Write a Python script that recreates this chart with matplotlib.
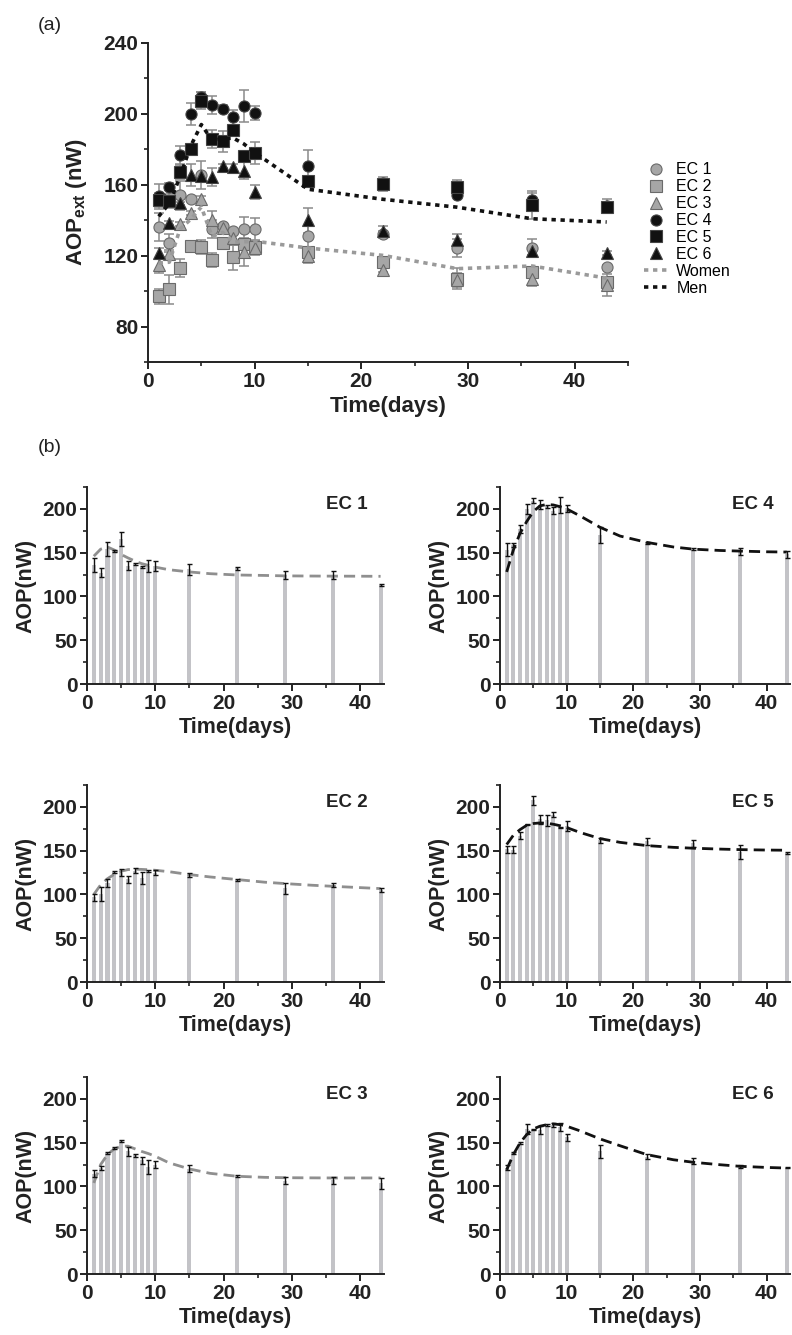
import numpy as np
import matplotlib.pyplot as plt
from matplotlib.ticker import MultipleLocator

plt.rcParams['font.family'] = ['Liberation Sans', 'DejaVu Sans']
plt.rcParams['mathtext.fontset'] = 'custom'
plt.rcParams['mathtext.bf'] = 'Liberation Sans:bold'
plt.rcParams['mathtext.rm'] = 'Liberation Sans:bold'
plt.rcParams['mathtext.default'] = 'bf'

days = [1, 2, 3, 4, 5, 6, 7, 8, 9, 10, 15, 22, 29, 36, 43]

# mean AOP per culture (nW)
ec1 = [136, 127, 154, 152, 165.5, 135, 137, 134, 135, 135, 131, 132, 124.5, 124.5, 113.5]
ec2 = [97, 101, 113, 125.5, 125, 117.5, 127, 119, 126.5, 125, 122, 116.5, 107, 111, 105]
ec3 = [114.5, 121, 138, 144, 152, 140, 135.5, 130, 122, 124.5, 120, 112, 106.5, 107, 103.5]
ec4 = [153.5, 159, 177, 200, 209.5, 205, 203, 198, 204.5, 200.5, 170.5, 161, 154.5, 151.5, 148]
ec5 = [151.5, 151, 167, 180, 207.5, 186, 184.5, 191, 176.5, 178, 162, 160.5, 158.5, 148.5, 147.5]
ec6 = [121.5, 138.5, 149.5, 165.5, 165, 164.5, 170.5, 170, 168, 156, 140, 134, 129, 122.5, 121.5]

# standard deviations
sd1 = [8, 5, 8, 1, 8, 5, 1, 1, 7, 6, 6, 2, 5, 5, 1]
sd2 = [4, 8, 5, 1, 4, 4, 3, 7, 1, 3, 2, 1, 6, 2, 2]
sd3 = [4, 2, 1, 1, 1.5, 5, 2, 4, 8, 4, 4, 1, 4, 4, 6]
sd4 = [7, 2, 5, 6, 3, 5, 2, 4, 9, 4, 9, 1, 1, 4, 4]
sd5 = [4, 4, 4, 1, 5, 5, 6, 3, 1, 6, 3, 4, 4, 8, 1]
sd6 = [3, 1, 1, 6, 1, 5, 1, 2, 5, 4, 7, 3, 3, 2, 1]

# fitted curves for each culture
fit_days = [1, 2, 3, 4, 5, 6, 7, 8, 9, 10, 12, 15, 18, 22, 26, 29, 33, 36, 40, 43]
fit1 = [146, 154, 156.5, 153, 148, 144, 140.5, 137.5, 135.5, 133.5, 130.5, 128, 126, 124.5, 124, 123.5, 123.3, 123.2, 123.1, 123]
fit2 = [100, 111, 118, 123, 126.5, 128.4, 128.8, 128.6, 128.2, 127.6, 126, 122.7, 120, 117, 114, 112.4, 110.5, 109.3, 107.8, 106.7]
fit3 = [104, 125, 136.4, 142.9, 145.9, 146, 143, 140, 137.5, 134.5, 127, 120, 115, 111.6, 110.4, 110, 109.8, 109.7, 109.7, 109.7]
fit4 = [128, 153, 172, 185.5, 197, 203.5, 205, 204.5, 202.5, 200, 192, 179, 169, 161.8, 156.5, 154, 152.5, 151.8, 151, 150.7]
fit5 = [157, 167.6, 174, 179, 181, 181.7, 181.3, 180.2, 178.5, 176.4, 170.8, 163.8, 159.5, 155.8, 153.8, 152.8, 151.8, 151.2, 150.7, 150.5]
fit6 = [119, 136.4, 149.7, 159.2, 165.7, 168.8, 170.5, 171.4, 170.6, 168.8, 163.5, 154.3, 146.5, 136.4, 130.5, 127.6, 124.8, 123, 121.7, 121]

labels = ['EC 1', 'EC 2', 'EC 3', 'EC 4', 'EC 5', 'EC 6']
means = [ec1, ec2, ec3, ec4, ec5, ec6]
sds = [sd1, sd2, sd3, sd4, sd5, sd6]
fits = [fit1, fit2, fit3, fit4, fit5, fit6]

women = np.mean([ec1, ec2, ec3], axis=0)
men = np.mean([ec4, ec5, ec6], axis=0)

W, H = 792, 1335
fig = plt.figure(figsize=(W / 100, H / 100), dpi=100)


def box(left, top, width, height):
    return [left / W, 1 - (top + height) / H, width / W, height / H]


def style_axes(ax, size):
    ax.spines['top'].set_visible(False)
    ax.spines['right'].set_visible(False)
    for s in ('left', 'bottom'):
        ax.spines[s].set_linewidth(1.4)
        ax.spines[s].set_color('#222222')
    ax.tick_params(which='major', length=5, width=1.4, color='#222222', labelsize=size, pad=2)
    ax.tick_params(which='minor', length=3, width=1.2, color='#222222')
    for t in ax.get_xticklabels() + ax.get_yticklabels():
        t.set_fontweight('bold')
        t.set_color('#222222')


# (a) all cultures together
ax = fig.add_axes(box(148, 43, 480, 319))
gray_face, gray_edge = '#a6a6a6', '#6a6a6a'
marker_styles = [('o', gray_face, gray_edge), ('s', gray_face, gray_edge), ('^', gray_face, gray_edge),
                 ('o', '#111111', '#444444'), ('s', '#111111', '#444444'), ('^', '#111111', '#444444')]
handles = []
for lab, m, s, (mk, fc, ec) in zip(labels, means, sds, marker_styles):
    ax.errorbar(days, m, yerr=s, fmt='none', ecolor='#8a8a8a', elinewidth=1.1, capsize=3.5, capthick=1.1, zorder=2)
    h, = ax.plot(days, m, linestyle='none', marker=mk, ms=8, mfc=fc, mec=ec, mew=0.8, label=lab, zorder=3)
    handles.append(h)
h, = ax.plot(days, women, color='#9a9a9a', linestyle=(0, (1.2, 1.3)), linewidth=2.6, label='Women', zorder=4)
handles.append(h)
h, = ax.plot(days, men, color='#111111', linestyle=(0, (1.2, 1.3)), linewidth=2.6, label='Men', zorder=4)
handles.append(h)

ax.set_xlim(0, 45)
ax.set_ylim(60, 240)
ax.xaxis.set_major_locator(MultipleLocator(10))
ax.xaxis.set_minor_locator(MultipleLocator(5))
ax.yaxis.set_minor_locator(MultipleLocator(20))
ax.set_yticks([80, 120, 160, 200, 240])
style_axes(ax, 15)
ax.set_xlabel('Time(days)', fontsize=16, fontweight='bold', color='#222222', labelpad=4)
ax.set_ylabel('AOP$_{ext}$ (nW)', fontsize=16, fontweight='bold', color='#222222', labelpad=10)
fig.legend(handles=handles, loc='upper left', bbox_to_anchor=(638 / W, 1 - 156 / H),
           frameon=False, fontsize=11.5, handlelength=1.4, handletextpad=0.6, labelspacing=0.12,
           borderaxespad=0)
fig.text(38 / W, 1 - 25 / H, '(a)', fontsize=14, va='center', color='#222222')
fig.text(38 / W, 1 - 447 / H, '(b)', fontsize=14, va='center', color='#222222')

# (b) one panel per culture
col_left = [87, 500]
col_width = [297, 290]
row_top = [487, 785, 1077]
panel_h = 197
order = [(0, 0), (1, 0), (2, 0), (0, 1), (1, 1), (2, 1)]
fit_colors = ['#8f8f8f'] * 3 + ['#111111'] * 3

for i, (r, c) in enumerate(order):
    bx = fig.add_axes(box(col_left[c], row_top[r], col_width[c], panel_h))
    bx.bar(days, means[i], width=0.6, color='#c3c3c7', zorder=1)
    bx.errorbar(days, means[i], yerr=sds[i], fmt='none', ecolor='#111111', elinewidth=1.0,
                capsize=1.8, capthick=1.0, zorder=3)
    bx.plot(fit_days, fits[i], color=fit_colors[i], linestyle=(0, (4, 2.2)), linewidth=2.0, zorder=2)
    bx.set_xlim(0, 43.5)
    bx.set_ylim(0, 225)
    bx.xaxis.set_major_locator(MultipleLocator(10))
    bx.xaxis.set_minor_locator(MultipleLocator(5))
    bx.yaxis.set_major_locator(MultipleLocator(50))
    bx.yaxis.set_minor_locator(MultipleLocator(25))
    style_axes(bx, 15)
    bx.set_xlabel('Time(days)', fontsize=15.5, fontweight='bold', color='#222222', labelpad=3)
    bx.set_ylabel('AOP(nW)', fontsize=15.5, fontweight='bold', color='#222222', labelpad=4)
    bx.text(0.945, 0.91, labels[i], transform=bx.transAxes, ha='right', va='center',
            fontsize=13.5, fontweight='bold', color='#222222')

fig.savefig('out.png', dpi=100)
